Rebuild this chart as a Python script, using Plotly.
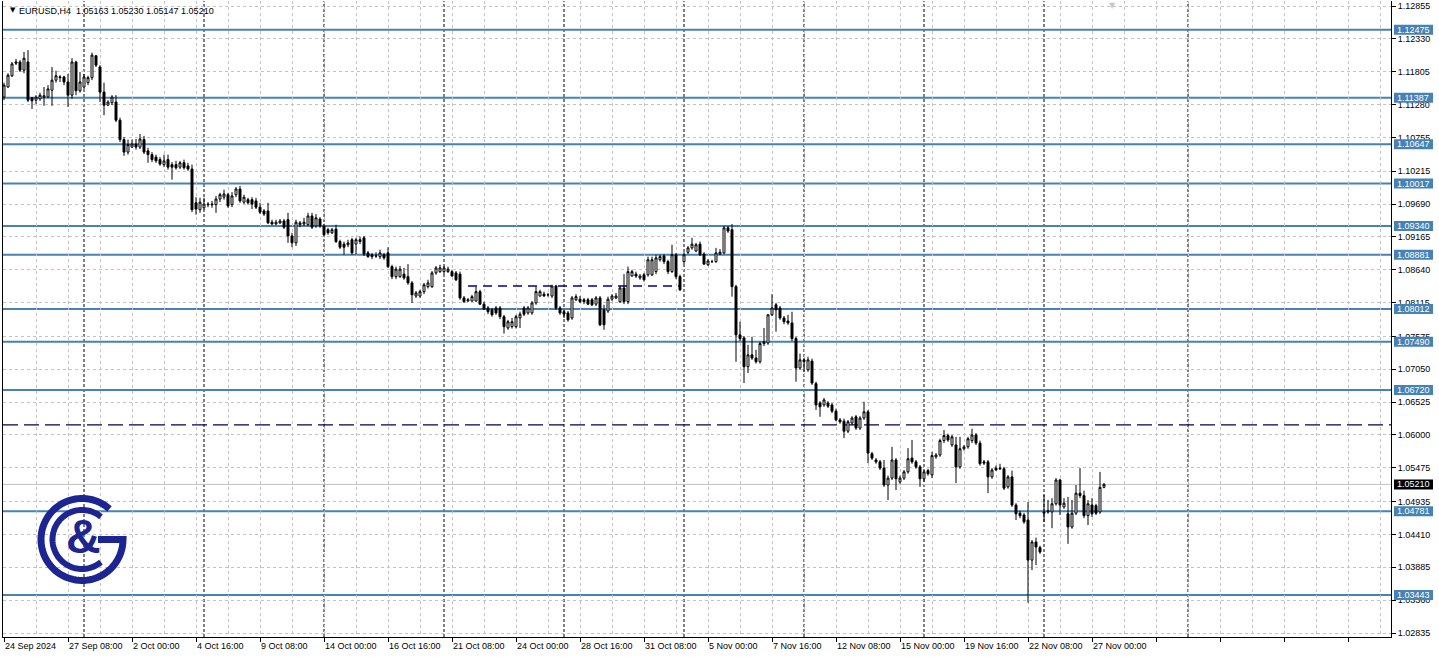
import numpy as np
import plotly.graph_objects as go

# ---------------- data (EURUSD H4) ----------------
open_ = [1.1140,1.1156,1.1174,1.1194,1.1196,1.1183,1.1196,1.1139,1.1135,1.1137,
1.1140,1.1140,1.1151,1.1167,1.1171,1.1172,1.1164,1.1143,1.1196,1.1150,
1.1156,1.1163,1.1171,1.1206,1.1188,1.1148,1.1127,1.1131,1.1132,1.1103,
1.1072,1.1052,1.1060,1.1065,1.1060,1.1072,1.1054,1.1048,1.1044,1.1040,
1.1032,1.1040,1.1032,1.1032,1.1028,1.1035,1.1030,1.1025,1.0971,1.0960,
1.0963,1.0969,1.0969,1.0968,1.0977,1.0980,1.0984,1.0968,1.0984,1.0993,
1.0972,1.0976,1.0976,1.0974,1.0964,1.0958,1.0958,1.0940,1.0937,1.0939,
1.0942,1.0944,1.0918,1.0907,1.0936,1.0937,1.0936,1.0950,1.0934,1.0945,
1.0934,1.0928,1.0923,1.0929,1.0909,1.0905,1.0904,1.0912,1.0905,1.0912,
1.0915,1.0891,1.0888,1.0886,1.0885,1.0888,1.0891,1.0869,1.0853,1.0853,
1.0857,1.0853,1.0843,1.0822,1.0822,1.0829,1.0837,1.0837,1.0859,1.0861,
1.0861,1.0861,1.0861,1.0859,1.0857,1.0819,1.0814,1.0814,1.0814,1.0829,
1.0809,1.0803,1.0800,1.0803,1.0803,1.0789,1.0771,1.0773,1.0773,1.0787,
1.0803,1.0795,1.0795,1.0811,1.0822,1.0825,1.0824,1.0822,1.0838,1.0803,
1.0797,1.0795,1.0787,1.0816,1.0817,1.0816,1.0816,1.0816,1.0809,1.0819,
1.0800,1.0798,1.0817,1.0819,1.0813,1.0835,1.0813,1.0854,1.0857,1.0851,
1.0856,1.0856,1.0856,1.0861,1.0880,1.0886,1.0877,1.0861,1.0888,1.0853,
1.0877,1.0892,1.0899,1.0894,1.0905,1.0889,1.0872,1.0877,1.0877,1.0889,
1.0891,1.0931,1.0928,1.0837,1.0760,1.0755,1.0709,1.0728,1.0723,1.0717,
1.0746,1.0747,1.0792,1.0808,1.0803,1.0787,1.0782,1.0779,1.0754,1.0707,
1.0720,1.0704,1.0718,1.0682,1.0651,1.0648,1.0651,1.0648,1.0638,1.0624,
1.0622,1.0606,1.0619,1.0629,1.0611,1.0627,1.0637,1.0570,1.0560,1.0557,
1.0547,1.0520,1.0531,1.0560,1.0525,1.0531,1.0541,1.0563,1.0557,1.0549,
1.0530,1.0543,1.0536,1.0565,1.0568,1.0591,1.0599,1.0584,1.0584,1.0549,
1.0578,1.0581,1.0591,1.0600,1.0587,1.0557,1.0557,1.0533,1.0547,1.0547,
1.0546,1.0517,1.0533,1.0488,1.0475,1.0472,1.0464,1.0400,1.0429,1.0420,
1.0477,1.0477,1.0477,1.0490,1.0528,1.0485,1.0474,1.0453,1.0475,1.0507,
1.0503,1.0471,1.0488,1.0487,1.0477,1.05163]

high = [1.1163,1.1178,1.1196,1.1201,1.1199,1.1212,1.1215,1.1140,1.1143,1.1147,
1.1156,1.1159,1.1188,1.1182,1.1175,1.1174,1.1177,1.1202,1.1198,1.1180,
1.1177,1.1174,1.1211,1.1207,1.1191,1.1163,1.1135,1.1143,1.1143,1.1107,
1.1076,1.1072,1.1072,1.1073,1.1081,1.1078,1.1059,1.1052,1.1048,1.1044,
1.1048,1.1048,1.1036,1.1038,1.1038,1.1040,1.1035,1.1032,1.0980,1.0979,
1.0979,1.0972,1.0974,1.0982,1.0987,1.0992,1.0987,1.0988,1.0996,1.0998,
1.0984,1.0979,1.0980,1.0979,1.0971,1.0961,1.0971,1.0944,1.0944,1.0945,
1.0945,1.0955,1.0923,1.0944,1.0942,1.0947,1.0955,1.0955,1.0953,1.0948,
1.0937,1.0931,1.0931,1.0936,1.0912,1.0909,1.0912,1.0915,1.0915,1.0917,
1.0918,1.0894,1.0891,1.0892,1.0896,1.0891,1.0900,1.0872,1.0869,1.0870,
1.0867,1.0873,1.0846,1.0830,1.0832,1.0843,1.0848,1.0862,1.0870,1.0872,
1.0870,1.0869,1.0864,1.0862,1.0861,1.0822,1.0819,1.0824,1.0837,1.0832,
1.0813,1.0806,1.0803,1.0806,1.0806,1.0792,1.0784,1.0787,1.0792,1.0797,
1.0806,1.0806,1.0814,1.0837,1.0832,1.0829,1.0827,1.0840,1.0840,1.0806,
1.0800,1.0798,1.0822,1.0825,1.0822,1.0819,1.0819,1.0819,1.0822,1.0822,
1.0808,1.0821,1.0825,1.0827,1.0838,1.0857,1.0869,1.0864,1.0861,1.0857,
1.0859,1.0885,1.0885,1.0888,1.0888,1.0889,1.0880,1.0904,1.0891,1.0856,
1.0892,1.0902,1.0915,1.0907,1.0909,1.0892,1.0881,1.0880,1.0899,1.0897,
1.0934,1.0934,1.0937,1.0840,1.0781,1.0758,1.0744,1.0757,1.0736,1.0749,
1.0771,1.0793,1.0825,1.0811,1.0806,1.0790,1.0792,1.0797,1.0757,1.0730,
1.0723,1.0725,1.0722,1.0685,1.0654,1.0659,1.0654,1.0651,1.0642,1.0627,
1.0626,1.0624,1.0630,1.0632,1.0630,1.0653,1.0640,1.0573,1.0563,1.0560,
1.0560,1.0535,1.0581,1.0563,1.0535,1.0544,1.0579,1.0592,1.0560,1.0552,
1.0544,1.0546,1.0573,1.0571,1.0594,1.0608,1.0602,1.0600,1.0597,1.0597,
1.0584,1.0597,1.0610,1.0603,1.0591,1.0560,1.0560,1.0547,1.0551,1.0554,
1.0549,1.0536,1.0543,1.0491,1.0479,1.0475,1.0493,1.0432,1.0436,1.0423,
1.0504,1.0496,1.0499,1.0531,1.0530,1.0499,1.0501,1.0496,1.0520,1.0547,
1.0511,1.0496,1.0499,1.0490,1.0541,1.05230]

low = [1.1135,1.1155,1.1172,1.1191,1.1180,1.1178,1.1132,1.1121,1.1129,1.1134,
1.1126,1.1139,1.1126,1.1163,1.1164,1.1159,1.1124,1.1137,1.1143,1.1147,
1.1153,1.1159,1.1167,1.1188,1.1132,1.1111,1.1126,1.1127,1.1100,1.1068,
1.1046,1.1048,1.1059,1.1056,1.1057,1.1049,1.1035,1.1036,1.1035,1.1030,
1.1028,1.1024,1.1008,1.1024,1.1025,1.1024,1.1022,1.0956,1.0952,1.0955,
1.0960,1.0964,1.0963,1.0955,1.0972,1.0976,1.0963,1.0964,1.0980,1.0971,
1.0969,1.0968,1.0961,1.0961,1.0953,1.0950,1.0937,1.0936,1.0936,1.0937,
1.0929,1.0907,1.0900,1.0902,1.0932,1.0934,1.0934,1.0929,1.0931,1.0931,
1.0917,1.0920,1.0921,1.0907,1.0897,1.0888,1.0900,1.0888,1.0888,1.0905,
1.0886,1.0883,1.0881,1.0883,1.0881,1.0880,1.0867,1.0849,1.0849,1.0851,
1.0848,1.0840,1.0811,1.0819,1.0819,1.0825,1.0834,1.0835,1.0856,1.0859,
1.0857,1.0859,1.0853,1.0846,1.0816,1.0811,1.0813,1.0813,1.0813,1.0808,
1.0800,1.0793,1.0789,1.0792,1.0785,1.0762,1.0768,1.0770,1.0770,1.0771,
1.0790,1.0792,1.0792,1.0808,1.0821,1.0821,1.0821,1.0819,1.0800,1.0792,
1.0787,1.0781,1.0784,1.0814,1.0811,1.0809,1.0808,1.0806,1.0806,1.0774,
1.0768,1.0795,1.0814,1.0817,1.0811,1.0809,1.0809,1.0853,1.0851,1.0848,
1.0845,1.0853,1.0854,1.0857,1.0877,1.0873,1.0857,1.0859,1.0849,1.0830,
1.0873,1.0889,1.0896,1.0892,1.0886,1.0872,1.0870,1.0875,1.0875,1.0888,
1.0889,1.0923,1.0821,1.0717,1.0750,1.0683,1.0699,1.0720,1.0714,1.0714,
1.0742,1.0744,1.0790,1.0765,1.0784,1.0777,1.0776,1.0750,1.0685,1.0704,
1.0701,1.0701,1.0680,1.0640,1.0629,1.0645,1.0643,1.0635,1.0622,1.0618,
1.0595,1.0603,1.0616,1.0608,1.0608,1.0624,1.0555,1.0560,1.0554,1.0544,
1.0517,1.0496,1.0528,1.0512,1.0522,1.0528,1.0538,1.0554,1.0546,1.0517,
1.0525,1.0535,1.0531,1.0562,1.0565,1.0587,1.0589,1.0581,1.0523,1.0546,
1.0575,1.0578,1.0587,1.0584,1.0551,1.0552,1.0507,1.0530,1.0543,1.0544,
1.0512,1.0514,1.0485,1.0464,1.0467,1.0458,1.0332,1.0384,1.0392,1.0410,
1.0461,1.0474,1.0451,1.0487,1.0472,1.0482,1.0426,1.0450,1.0472,1.0499,
1.0467,1.0456,1.0469,1.0472,1.0474,1.05147]

close = [1.1159,1.1175,1.1193,1.1196,1.1183,1.1202,1.1135,1.1134,1.1140,1.1143,
1.1142,1.1153,1.1167,1.1174,1.1172,1.1164,1.1143,1.1196,1.1150,1.1164,
1.1172,1.1171,1.1207,1.1191,1.1148,1.1127,1.1132,1.1140,1.1103,1.1072,
1.1052,1.1064,1.1065,1.1060,1.1073,1.1052,1.1048,1.1040,1.1038,1.1033,
1.1038,1.1028,1.1028,1.1027,1.1035,1.1027,1.1025,1.0960,1.0961,1.0972,
1.0969,1.0968,1.0968,1.0977,1.0984,1.0985,1.0966,1.0982,1.0993,1.0974,
1.0980,1.0971,1.0969,1.0964,1.0956,1.0953,1.0939,1.0937,1.0940,1.0942,
1.0932,1.0918,1.0907,1.0940,1.0939,1.0940,1.0950,1.0932,1.0947,1.0934,
1.0920,1.0923,1.0928,1.0909,1.0900,1.0900,1.0907,1.0891,1.0912,1.0909,
1.0889,1.0885,1.0885,1.0886,1.0891,1.0883,1.0869,1.0853,1.0865,1.0865,
1.0851,1.0843,1.0824,1.0827,1.0829,1.0840,1.0843,1.0859,1.0867,1.0867,
1.0867,1.0865,1.0854,1.0848,1.0819,1.0813,1.0816,1.0821,1.0829,1.0809,
1.0801,1.0797,1.0792,1.0795,1.0789,1.0773,1.0781,1.0781,1.0789,1.0793,
1.0793,1.0803,1.0811,1.0829,1.0829,1.0822,1.0824,1.0838,1.0803,1.0795,
1.0793,1.0784,1.0819,1.0821,1.0813,1.0813,1.0809,1.0808,1.0819,1.0776,
1.0776,1.0817,1.0822,1.0822,1.0835,1.0813,1.0861,1.0861,1.0854,1.0854,
1.0848,1.0880,1.0880,1.0883,1.0885,1.0877,1.0861,1.0888,1.0853,1.0832,
1.0888,1.0899,1.0905,1.0904,1.0888,1.0873,1.0878,1.0877,1.0891,1.0892,
1.0931,1.0926,1.0837,1.0760,1.0754,1.0709,1.0728,1.0723,1.0717,1.0746,
1.0749,1.0792,1.0803,1.0800,1.0787,1.0781,1.0779,1.0754,1.0707,1.0720,
1.0717,1.0720,1.0683,1.0648,1.0645,1.0656,1.0646,1.0638,1.0624,1.0621,
1.0606,1.0621,1.0627,1.0611,1.0627,1.0637,1.0571,1.0563,1.0557,1.0547,
1.0520,1.0531,1.0560,1.0530,1.0531,1.0541,1.0562,1.0557,1.0549,1.0530,
1.0541,1.0538,1.0567,1.0568,1.0591,1.0599,1.0592,1.0597,1.0549,1.0578,
1.0581,1.0594,1.0600,1.0587,1.0554,1.0555,1.0533,1.0544,1.0544,1.0546,
1.0515,1.0533,1.0488,1.0474,1.0471,1.0461,1.0400,1.0429,1.0421,1.0413,
1.0475,1.0479,1.0490,1.0528,1.0488,1.0491,1.0453,1.0475,1.0507,1.0503,
1.0471,1.0490,1.0474,1.0475,1.05163,1.05210]

# time-axis labels (one every 16 H4 bars)
time_labels = ["24 Sep 2024", "27 Sep 08:00", "2 Oct 00:00", "4 Oct 16:00", "9 Oct 08:00",
               "14 Oct 00:00", "16 Oct 16:00", "21 Oct 08:00", "24 Oct 00:00", "28 Oct 16:00",
               "31 Oct 08:00", "5 Nov 00:00", "7 Nov 16:00", "12 Nov 08:00", "15 Nov 00:00",
               "19 Nov 16:00", "22 Nov 08:00", "27 Nov 00:00"]
BARS_PER_LABEL = 16

# price axis labels
price_labels = ["1.12855", "1.12330", "1.11805", "1.11280", "1.10755", "1.10215", "1.09690",
                "1.09165", "1.08640", "1.08115", "1.07575", "1.07050", "1.06525", "1.06000",
                "1.05475", "1.04935", "1.04410", "1.03885", "1.03360", "1.02835"]

# horizontal support / resistance levels
levels = [1.12475, 1.11387, 1.10647, 1.10017, 1.09340, 1.08881, 1.08012,
          1.07490, 1.06720, 1.04781, 1.03443]
pivot_level = 1.0616          # long navy dashed line
neckline_level = 1.0838       # short navy dashed line
neckline_bars = [116, 169]
bid_price = 1.05210
week_starts = [20, 50, 80, 110, 140, 170, 200, 230, 260, 296]   # bar index of Monday 00:00

symbol_text = "EURUSD,H4 &nbsp;1.05163 1.05230 1.05147 1.05210"

# ---------------- styling ----------------
BLUE = "#4682b4"
NAVY = "#00005a"
LOGO = "#1c2591"
GRID = "#c3c3c3"
FONT = "Liberation Sans"

n = len(close)
bars = list(range(n))

fig = go.Figure()
fig.add_trace(go.Candlestick(
    x=bars, open=open_, high=high, low=low, close=close,
    increasing=dict(line=dict(color="black", width=1), fillcolor="white"),
    decreasing=dict(line=dict(color="black", width=1), fillcolor="black"),
    whiskerwidth=0, showlegend=False, hoverinfo="skip"))

shapes = []
# week separators
for w in week_starts:
    shapes.append(dict(type="line", xref="x", yref="paper", x0=w, x1=w, y0=0, y1=1,
                       line=dict(color="black", width=1, dash="3px,2px"), layer="between"))
# level lines
for lv in levels:
    shapes.append(dict(type="line", xref="paper", yref="y", x0=0, x1=1, y0=lv, y1=lv,
                       line=dict(color=BLUE, width=2), layer="between"))
# bid line
shapes.append(dict(type="line", xref="paper", yref="y", x0=0, x1=1, y0=bid_price, y1=bid_price,
                   line=dict(color="#c0c0c0", width=1), layer="between"))
# dashed navy lines
shapes.append(dict(type="line", xref="paper", yref="y", x0=0, x1=1, y0=pivot_level, y1=pivot_level,
                   line=dict(color=NAVY, width=1.3, dash="15px,6px"), layer="between"))
shapes.append(dict(type="line", xref="x", yref="y", x0=neckline_bars[0], x1=neckline_bars[1],
                   y0=neckline_level, y1=neckline_level,
                   line=dict(color="#00008b", width=1.3, dash="9px,6px"), layer="between"))

annotations = []
# price labels for the levels (blue boxes) on the axis
for lv in levels:
    shapes.append(dict(type="rect", xref="paper", yref="y", xsizemode="pixel", ysizemode="pixel",
                       xanchor=1, yanchor=lv, x0=3, x1=42, y0=-5, y1=5,
                       fillcolor=BLUE, line=dict(width=0), layer="above"))
    annotations.append(dict(xref="paper", yref="y", x=1, y=lv, xanchor="left", yanchor="middle",
                            xshift=4, text=f"{lv:.5f}", showarrow=False,
                            font=dict(family=FONT, size=9, color="white")))
shapes.append(dict(type="rect", xref="paper", yref="y", xsizemode="pixel", ysizemode="pixel",
                   xanchor=1, yanchor=bid_price, x0=3, x1=42, y0=-5, y1=5,
                   fillcolor="black", line=dict(width=0), layer="above"))
annotations.append(dict(xref="paper", yref="y", x=1, y=bid_price, xanchor="left", yanchor="middle",
                        xshift=4, text=f"{bid_price:.5f}", showarrow=False,
                        font=dict(family=FONT, size=9, color="white")))

# time labels
for i, lab in enumerate(time_labels):
    annotations.append(dict(xref="x", yref="paper", x=i * BARS_PER_LABEL, y=0, xanchor="left",
                            yanchor="top", xshift=-1, yshift=-2, text=lab, showarrow=False,
                            font=dict(family=FONT, size=9, color="black")))

# header
annotations.append(dict(xref="paper", yref="paper", x=0, y=1, xanchor="left", yanchor="top",
                        xshift=5, yshift=-3, text="▼", showarrow=False,
                        font=dict(family="DejaVu Sans", size=7, color="black")))
annotations.append(dict(xref="paper", yref="paper", x=0, y=1, xanchor="left", yanchor="top",
                        xshift=14, yshift=-3, text=symbol_text, showarrow=False,
                        font=dict(family=FONT, size=9, color="black")))
# chart-shift marker
annotations.append(dict(xref="x", yref="paper", x=277, y=1, xanchor="center", yanchor="top",
                        yshift=2, text="▼", showarrow=False,
                        font=dict(family="DejaVu Sans", size=8, color="#c8c8c8")))

# ---------------- logo ----------------
logo_x = 19.5
logo_y = 1.04330


def arc(r, a0, a1, npts=80):
    t = np.radians(np.linspace(a0, a1, npts))
    return [(r * np.cos(v), r * np.sin(v)) for v in t]


outer = arc(41, 48, 360) + [(16, 0)]
inner = arc(29.5, 50, 310)
for pts, w in ((outer, 7), (inner, 6)):
    path = "M " + " L ".join(f"{px:.2f},{py:.2f}" for px, py in pts)
    shapes.append(dict(type="path", path=path, xref="x", yref="y", xsizemode="pixel",
                       ysizemode="pixel", xanchor=logo_x, yanchor=logo_y,
                       line=dict(color=LOGO, width=w), layer="above"))
annotations.append(dict(xref="x", yref="y", x=logo_x, y=logo_y, xanchor="center",
                        yanchor="middle", xshift=1, yshift=3, text="<b>&amp;</b>", showarrow=False,
                        font=dict(family=FONT, size=48, color=LOGO)))

# ---------------- layout ----------------
px_per_unit = (1.12855 - 1.02835) / 627.0
y_top = 1.12855 + 5 * px_per_unit
y_bot = 1.02835 - 4 * px_per_unit

fig.update_layout(
    template="none",
    width=1439, height=659,
    margin=dict(l=3, r=48, t=1, b=22, pad=0),
    paper_bgcolor="white", plot_bgcolor="white",
    font=dict(family=FONT, size=9, color="black"),
    showlegend=False,
    shapes=shapes, annotations=annotations,
    xaxis=dict(range=[-0.25, 346.75], tickmode="linear", tick0=0, dtick=BARS_PER_LABEL,
               showticklabels=False, ticks="outside", ticklen=4, tickcolor="black",
               showgrid=True, gridcolor=GRID, griddash="3px,3px", gridwidth=1,
               minor=dict(tick0=8, dtick=BARS_PER_LABEL, showgrid=True, gridcolor=GRID,
                          griddash="3px,3px", ticks=""),
               showline=True, linecolor="black", linewidth=1, zeroline=False,
               rangeslider=dict(visible=False), automargin=False, fixedrange=True),
    yaxis=dict(side="right", range=[y_bot, y_top], tickmode="array",
               tickvals=[float(v) for v in price_labels], ticktext=price_labels,
               ticks="outside", ticklen=4, tickcolor="black",
               tickfont=dict(family=FONT, size=9, color="black"),
               showgrid=True, gridcolor=GRID, griddash="3px,3px", gridwidth=1,
               showline=True, linecolor="black", linewidth=1, mirror=True, zeroline=False,
               automargin=False, fixedrange=True),
)

fig.write_html("out.html", config={"displayModeBar": False},
               post_script="document.body.style.margin='0';document.body.style.overflow='hidden';")
